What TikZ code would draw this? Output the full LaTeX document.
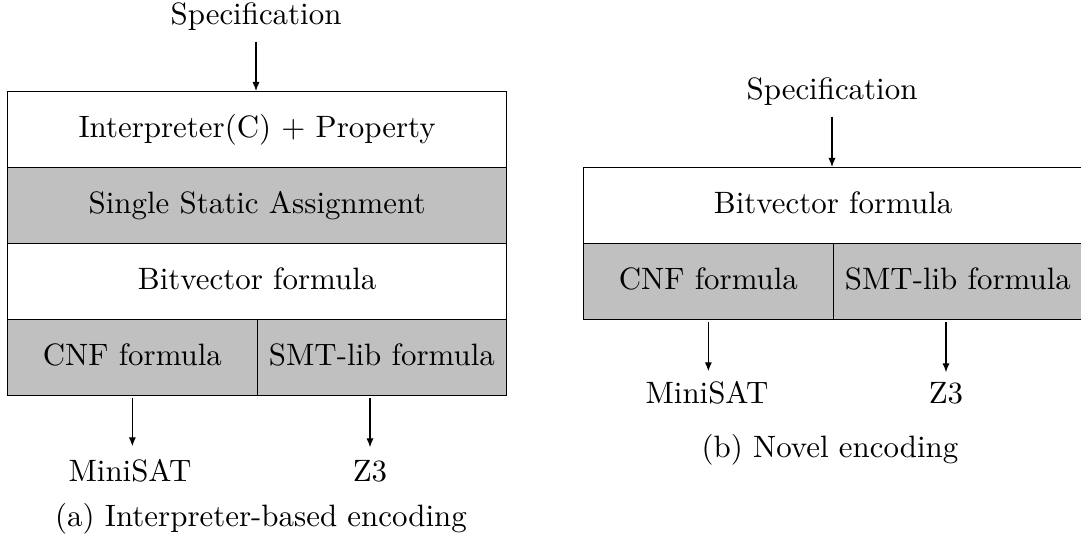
\documentclass[tikz,border=0pt]{standalone}
\usetikzlibrary{arrows.meta}
\definecolor{stagegray}{RGB}{192,192,192}
\begin{document}
\begin{tikzpicture}[x=0.3333pt,y=-0.3333pt,
  every node/.style={font=\fontsize{10.3}{12.4}\selectfont},
  stage/.style={draw, line width=0.4pt, minimum width=166.33pt, minimum height=25.33pt,
    inner sep=0pt, anchor=north west, text height=7.5pt, text depth=2.17pt},
  halfstage/.style={stage, minimum width=83.17pt},
  shaded/.style={fill=stagegray},
  flow/.style={-{Latex[length=3pt,width=2.4pt]}, line width=0.4pt},
  tagtext/.style={anchor=base}]
\useasboundingbox (0,0) rectangle (1081,542);

% (a) interpreter-based pipeline
\node[tagtext] (specA) at (256,25) {Specification};
\node[stage] (interp) at (7,91) {Interpreter(C) + Property};
\node[stage,shaded] (ssa) at (7,167) {Single Static Assignment};
\node[stage] (bvA) at (7,243) {Bitvector formula};
\node[halfstage,shaded] (cnfA) at (7,319) {CNF formula};
\node[halfstage,shaded] (smtA) at (256.5,319) {SMT-lib formula};
\node[tagtext] (satA) at (130,482) {MiniSAT};
\node[tagtext] (zA) at (370,482) {Z3};
\node[tagtext] (capA) at (261,527) {(a) Interpreter-based encoding};

\draw[flow] (specA.south) -- (specA.south |- interp.north);
\draw[flow, shorten <=0.7pt, shorten >=1pt] (cnfA.south) -- (cnfA.south |- satA.north);
\draw[flow, shorten <=0.7pt, shorten >=1pt] (zA.north |- smtA.south) -- (zA.north);

% (b) direct pipeline
\node[tagtext] (specB) at (832,100) {Specification};
\node[stage] (bvB) at (583,167) {Bitvector formula};
\node[halfstage,shaded] (cnfB) at (583,243) {CNF formula};
\node[halfstage,shaded] (smtB) at (832.5,243) {SMT-lib formula};
\node[tagtext] (satB) at (707,404) {MiniSAT};
\node[tagtext] (zB) at (946,404) {Z3};
\node[tagtext] (capB) at (830,458) {(b) Novel encoding};

\draw[flow] (specB.south) -- (specB.south |- bvB.north);
\draw[flow, shorten <=0.7pt] (cnfB.south) -- (cnfB.south |- satB.north);
\draw[flow, shorten <=0.7pt] (zB.north |- smtB.south) -- (zB.north);
\end{tikzpicture}
\end{document}
